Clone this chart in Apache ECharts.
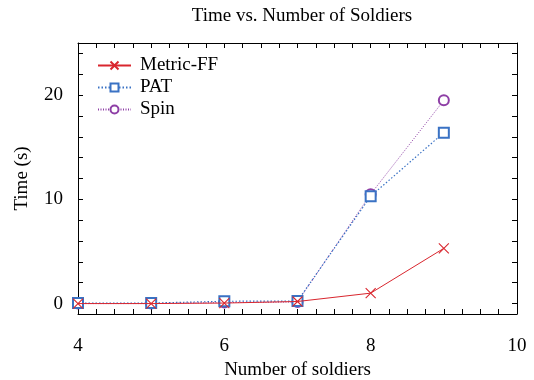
<!DOCTYPE html>
<html>
<head>
<meta charset="utf-8">
<script src="https://cdn.jsdelivr.net/npm/echarts@6/dist/echarts.min.js"></script>
<style>
  html, body { margin: 0; padding: 0; background: #fff; }
  #chart { width: 534px; height: 380px; }
</style>
</head>
<body>
<div id="chart"></div>
<script>
// 士兵数量
const soldiers = [4, 5, 6, 7, 8, 9]
const metricFF = [0.0, 0.0, 0.05, 0.2, 1.0, 5.3]
const pat = [0.05, 0.05, 0.22, 0.25, 10.3, 16.4]
const spin = [0.0, 0.0, 0.1, 0.15, 10.5, 19.5]
const yLabels = [0, 10, 20]
const yTicks = [0, 2, 4, 6, 8, 10, 12, 14, 16, 18, 20, 22, 24]

const FONT = 'Liberation Serif'
const FS = 19
const black = '#000'

const crossPath = 'path://M0,0L10,10M10,0L0,10'

function pairs(ys) {
  return soldiers.map((x, i) => [x, ys[i]])
}

const chart = echarts.init(document.getElementById('chart'))

// 上下两条 x 轴，刻度朝内
const xBase = {
  type: 'value',
  min: 4,
  max: 10,
  interval: 2,
  axisLine: { show: true, onZero: false, lineStyle: { color: black, width: 1 } },
  axisTick: { show: true, inside: true, length: 5, lineStyle: { color: black } },
  minorTick: { show: true, splitNumber: 8, length: 5, lineStyle: { color: black } },
  splitLine: { show: false },
  minorSplitLine: { show: false }
}

const yBase = {
  type: 'value',
  min: -1,
  max: 25,
  axisLine: { show: true, onZero: false, lineStyle: { color: black, width: 1 } },
  axisTick: { show: true, inside: true, length: 5, customValues: yTicks, lineStyle: { color: black } },
  splitLine: { show: false }
}

const option = {
  animation: false,
  backgroundColor: '#fff',
  title: {
    text: 'Time vs. Number of Soldiers',
    left: 297,
    textAlign: 'center',
    top: 2,
    textStyle: { fontFamily: FONT, fontSize: FS, fontWeight: 'normal', color: black }
  },
  legend: {
    orient: 'vertical',
    left: 92,
    top: 51,
    itemWidth: 33,
    itemHeight: 10,
    itemGap: 3,
    textStyle: { fontFamily: FONT, fontSize: FS, color: black, padding: [0, 0, 0, 4] },
    data: ['Metric-FF', 'PAT', 'Spin']
  },
  grid: { left: 78, right: 17, top: 43, bottom: 66, outerBoundsMode: 'none' },
  xAxis: [
    Object.assign({}, xBase, {
      position: 'bottom',
      name: 'Number of soldiers',
      nameLocation: 'middle',
      nameGap: 47,
      nameTextStyle: { fontFamily: FONT, fontSize: FS, color: black },
      axisLabel: { margin: 23, fontFamily: FONT, fontSize: FS, color: black }
    }),
    Object.assign({}, xBase, {
      position: 'top',
      axisLabel: { show: false }
    })
  ],
  yAxis: [
    Object.assign({}, yBase, {
      position: 'left',
      name: 'Time (s)',
      nameLocation: 'middle',
      nameGap: 46,
      nameTextStyle: { fontFamily: FONT, fontSize: FS, color: black },
      axisLabel: { margin: 15, customValues: yLabels, fontFamily: FONT, fontSize: FS, color: black }
    }),
    Object.assign({}, yBase, {
      position: 'right',
      axisLabel: { show: false }
    })
  ],
  series: [
    {
      name: 'Spin',
      type: 'line',
      data: pairs(spin),
      symbol: 'emptyCircle',
      symbolSize: 10,
      clip: false,
      z: 2,
      lineStyle: { color: '#8e3fa6', width: 1, type: [1, 1.5] },
      itemStyle: { color: '#8e3fa6', borderWidth: 1.1 }
    },
    {
      name: 'PAT',
      type: 'line',
      data: pairs(pat),
      symbol: 'emptyRect',
      symbolSize: 10,
      clip: false,
      z: 3,
      lineStyle: { color: '#3a72c4', width: 1.2, type: [1.5, 2] },
      itemStyle: { color: '#3a72c4', borderWidth: 1.1 }
    },
    {
      name: 'Metric-FF',
      type: 'line',
      data: pairs(metricFF),
      symbol: crossPath,
      symbolSize: 10,
      clip: false,
      z: 4,
      lineStyle: { color: '#d9262e', width: 1 },
      itemStyle: { color: 'transparent', borderColor: '#d9262e', borderWidth: 1.1 }
    }
  ]
}

chart.setOption(option)
</script>
</body>
</html>
